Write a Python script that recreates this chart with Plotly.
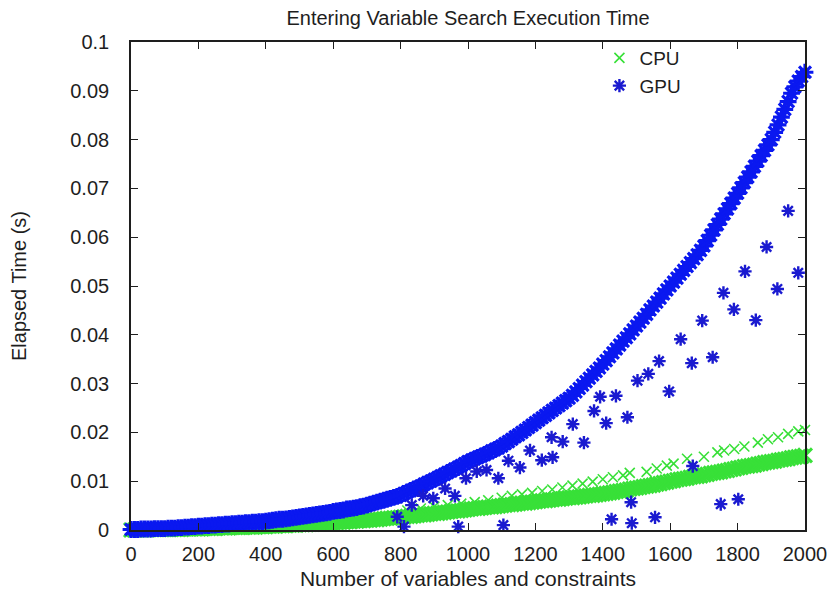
import plotly.graph_objects as go

# ---- data ----
x_main = list(range(0, 2001, 10))

gpu_main = [
    0.0001, 0.0001, 0.0001, 0.0002, 0.0002, 0.0002, 0.0002, 0.0003, 0.0003, 0.0003,
    0.0003, 0.0004, 0.0004, 0.0004, 0.0005, 0.0005, 0.0006, 0.0006, 0.0007, 0.0007,
    0.0008, 0.0008, 0.0009, 0.0009, 0.0010, 0.0010, 0.0011, 0.0011, 0.0012, 0.0012,
    0.0013, 0.0013, 0.0014, 0.0014, 0.0015, 0.0015, 0.0016, 0.0016, 0.0017, 0.0017,
    0.0018, 0.0019, 0.0020, 0.0021, 0.0022, 0.0022, 0.0023, 0.0024, 0.0025, 0.0026,
    0.0027, 0.0028, 0.0029, 0.0030, 0.0031, 0.0032, 0.0033, 0.0034, 0.0035, 0.0036,
    0.0038, 0.0039, 0.0040, 0.0041, 0.0043, 0.0044, 0.0045, 0.0046, 0.0048, 0.0049,
    0.0051, 0.0053, 0.0055, 0.0057, 0.0059, 0.0061, 0.0063, 0.0065, 0.0067, 0.0069,
    0.0071, 0.0075, 0.0078, 0.0081, 0.0084, 0.0087, 0.0090, 0.0094, 0.0097, 0.0100,
    0.0104, 0.0107, 0.0111, 0.0114, 0.0118, 0.0121, 0.0125, 0.0128, 0.0132, 0.0136,
    0.0140, 0.0143, 0.0146, 0.0149, 0.0152, 0.0155, 0.0158, 0.0162, 0.0165, 0.0168,
    0.0172, 0.0177, 0.0181, 0.0186, 0.0191, 0.0195, 0.0200, 0.0205, 0.0210, 0.0215,
    0.0220, 0.0225, 0.0230, 0.0235, 0.0240, 0.0245, 0.0250, 0.0255, 0.0260, 0.0265,
    0.0270, 0.0276, 0.0283, 0.0290, 0.0297, 0.0304, 0.0311, 0.0318, 0.0325, 0.0332,
    0.0340, 0.0347, 0.0355, 0.0363, 0.0371, 0.0379, 0.0387, 0.0394, 0.0402, 0.0410,
    0.0418, 0.0426, 0.0434, 0.0442, 0.0451, 0.0459, 0.0467, 0.0475, 0.0484, 0.0492,
    0.0500, 0.0508, 0.0516, 0.0524, 0.0532, 0.0540, 0.0548, 0.0556, 0.0564, 0.0573,
    0.0582, 0.0593, 0.0604, 0.0615, 0.0626, 0.0637, 0.0648, 0.0658, 0.0669, 0.0680,
    0.0690, 0.0701, 0.0712, 0.0723, 0.0734, 0.0745, 0.0756, 0.0767, 0.0778, 0.0789,
    0.0800, 0.0815, 0.0830, 0.0846, 0.0862, 0.0878, 0.0895, 0.0908, 0.0920, 0.0929,
    0.0938]

cpu_main = [
    0.0000, 0.0000, 0.0000, 0.0000, 0.0000, 0.0000, 0.0001, 0.0001, 0.0001, 0.0001,
    0.0001, 0.0001, 0.0001, 0.0001, 0.0001, 0.0001, 0.0002, 0.0002, 0.0002, 0.0002,
    0.0002, 0.0002, 0.0003, 0.0003, 0.0003, 0.0003, 0.0004, 0.0004, 0.0004, 0.0004,
    0.0005, 0.0005, 0.0005, 0.0005, 0.0006, 0.0006, 0.0006, 0.0006, 0.0007, 0.0007,
    0.0007, 0.0008, 0.0008, 0.0008, 0.0009, 0.0009, 0.0009, 0.0010, 0.0010, 0.0010,
    0.0011, 0.0011, 0.0011, 0.0012, 0.0012, 0.0013, 0.0013, 0.0013, 0.0014, 0.0014,
    0.0015, 0.0015, 0.0016, 0.0016, 0.0017, 0.0017, 0.0018, 0.0018, 0.0019, 0.0019,
    0.0020, 0.0020, 0.0021, 0.0021, 0.0022, 0.0023, 0.0024, 0.0024, 0.0025, 0.0025,
    0.0026, 0.0027, 0.0028, 0.0028, 0.0029, 0.0030, 0.0031, 0.0031, 0.0032, 0.0033,
    0.0034, 0.0034, 0.0035, 0.0036, 0.0037, 0.0038, 0.0039, 0.0039, 0.0040, 0.0041,
    0.0042, 0.0043, 0.0044, 0.0044, 0.0045, 0.0046, 0.0047, 0.0047, 0.0048, 0.0049,
    0.0050, 0.0051, 0.0052, 0.0052, 0.0053, 0.0054, 0.0055, 0.0055, 0.0056, 0.0057,
    0.0058, 0.0059, 0.0060, 0.0060, 0.0061, 0.0062, 0.0063, 0.0063, 0.0064, 0.0065,
    0.0066, 0.0066, 0.0067, 0.0068, 0.0069, 0.0070, 0.0071, 0.0071, 0.0072, 0.0073,
    0.0074, 0.0075, 0.0076, 0.0077, 0.0079, 0.0080, 0.0081, 0.0082, 0.0084, 0.0085,
    0.0086, 0.0087, 0.0089, 0.0090, 0.0091, 0.0092, 0.0094, 0.0095, 0.0097, 0.0098,
    0.0100, 0.0101, 0.0103, 0.0104, 0.0105, 0.0106, 0.0108, 0.0109, 0.0110, 0.0111,
    0.0113, 0.0114, 0.0116, 0.0117, 0.0118, 0.0119, 0.0121, 0.0122, 0.0124, 0.0125,
    0.0127, 0.0128, 0.0130, 0.0131, 0.0132, 0.0133, 0.0135, 0.0136, 0.0138, 0.0139,
    0.0140, 0.0141, 0.0143, 0.0144, 0.0145, 0.0146, 0.0148, 0.0149, 0.0150, 0.0151,
    0.0153]

cpu_upper_x = [820, 860, 900, 940, 980, 1020, 1060, 1100, 1130, 1160, 1190, 1220, 1250,
               1280, 1310, 1340, 1370, 1400, 1430, 1460, 1480, 1530, 1560, 1590, 1610,
               1650, 1700, 1740, 1760, 1790, 1820, 1860, 1890, 1920, 1950, 1980, 2000]
cpu_upper_y = [0.0040, 0.0044, 0.0048, 0.0051, 0.0054, 0.0057, 0.0061, 0.0066, 0.0070,
               0.0073, 0.0076, 0.0080, 0.0083, 0.0087, 0.0091, 0.0095, 0.0099, 0.0104,
               0.0108, 0.0112, 0.0117, 0.0119, 0.0126, 0.0132, 0.0136, 0.0146, 0.0150,
               0.0159, 0.0163, 0.0166, 0.0171, 0.0179, 0.0186, 0.0190, 0.0197, 0.0202,
               0.0205]

gpu_out_x = [790, 810, 833, 867, 897, 932, 961, 971, 994, 1026, 1055, 1090, 1105, 1120,
             1154, 1184, 1219, 1248, 1251, 1281, 1311, 1344, 1374, 1392, 1410, 1426, 1439,
             1473, 1484, 1486, 1503, 1535, 1555, 1567, 1597, 1631, 1664, 1667, 1695, 1726,
             1750, 1758, 1789, 1802, 1822, 1854, 1886, 1918, 1950, 1980]
gpu_out_y = [0.0027, 0.0007, 0.0051, 0.0070, 0.0065, 0.0085, 0.0070, 0.0007, 0.0106, 0.0120,
             0.0123, 0.0106, 0.0010, 0.0142, 0.0128, 0.0163, 0.0143, 0.0190, 0.0149, 0.0181,
             0.0217, 0.0179, 0.0244, 0.0273, 0.0219, 0.0022, 0.0275, 0.0231, 0.0057, 0.0014,
             0.0306, 0.0320, 0.0026, 0.0346, 0.0284, 0.0391, 0.0342, 0.0131, 0.0429, 0.0354,
             0.0053, 0.0486, 0.0452, 0.0063, 0.0530, 0.0430, 0.0580, 0.0494, 0.0654, 0.0527]

x_ticks = list(range(0, 2001, 200))
y_ticks = [0, 0.01, 0.02, 0.03, 0.04, 0.05, 0.06, 0.07, 0.08, 0.09, 0.1]
y_tick_text = ["0", "0.01", "0.02", "0.03", "0.04", "0.05", "0.06", "0.07", "0.08", "0.09", "0.1"]

CPU_COLOR = "#38e038"
GPU_COLOR = "#0a18f0"
GPU_OUT_COLOR = "#1a1ad0"
TEXT = "#1e1e1e"

fig = go.Figure()
# CPU: dense band plus the sparser upper readings (one legend entry)
fig.add_trace(go.Scatter(
    x=x_main, y=cpu_main, mode="markers", name="CPU", legendgroup="cpu",
    marker=dict(symbol="x-thin-open", size=14, color=CPU_COLOR,
                line=dict(color=CPU_COLOR, width=3)),
    cliponaxis=False, showlegend=False,
))
fig.add_trace(go.Scatter(
    x=cpu_upper_x, y=cpu_upper_y, mode="markers", name="CPU", legendgroup="cpu",
    marker=dict(symbol="x-thin-open", size=10, color=CPU_COLOR,
                line=dict(color=CPU_COLOR, width=1.6)),
    cliponaxis=False, showlegend=True,
))
# GPU: dense band plus scattered lower readings (one legend entry)
fig.add_trace(go.Scatter(
    x=x_main, y=gpu_main, mode="markers", name="GPU", legendgroup="gpu",
    marker=dict(symbol="asterisk-open", size=14, color=GPU_COLOR,
                line=dict(color=GPU_COLOR, width=3.2)),
    cliponaxis=False, showlegend=False,
))
fig.add_trace(go.Scatter(
    x=gpu_out_x, y=gpu_out_y, mode="markers", name="GPU", legendgroup="gpu",
    marker=dict(symbol="asterisk-open", size=11, color=GPU_OUT_COLOR,
                line=dict(color=GPU_OUT_COLOR, width=2.4)),
    cliponaxis=False, showlegend=True,
))

W, H = 829, 588  # page body has an 8px margin inside the 837x596 window
font_family = "Liberation Sans, Arial, sans-serif"
fig.update_layout(
    width=W, height=H,
    margin=dict(l=123, r=32, t=34, b=66, autoexpand=False),
    paper_bgcolor="white", plot_bgcolor="white",
    font=dict(family=font_family, size=20, color=TEXT),
    title=dict(text="Entering Variable Search Execution Time", x=460 / W, xanchor="center",
               y=1 - 3 / H, yanchor="top", font=dict(size=20, color=TEXT)),
    showlegend=True,
    legend=dict(x=0.695, y=1.006, xanchor="left", yanchor="top", bgcolor="rgba(0,0,0,0)",
                font=dict(size=19, color=TEXT), itemwidth=30, tracegroupgap=0,
                traceorder="normal"),
    xaxis=dict(range=[0, 2000], tickvals=x_ticks, ticks="inside", ticklen=7,
               tickcolor=TEXT, ticklabelstandoff=5,
               showline=True, linecolor=TEXT, linewidth=1.6, mirror="ticks",
               showgrid=False, zeroline=False, automargin=False,
               tickfont=dict(size=20),
               title=dict(text="Number of variables and constraints", font=dict(size=21), standoff=8)),
    yaxis=dict(range=[0, 0.1], tickvals=y_ticks, ticktext=y_tick_text, ticks="inside", ticklen=7,
               tickcolor=TEXT, ticklabelstandoff=16,
               showline=True, linecolor=TEXT, linewidth=1.6, mirror="ticks",
               showgrid=False, zeroline=False, automargin=False,
               tickfont=dict(size=20),
               title=dict(text="Elapsed Time (s)", font=dict(size=20), standoff=40)),
)

fig.write_html("out.html")
